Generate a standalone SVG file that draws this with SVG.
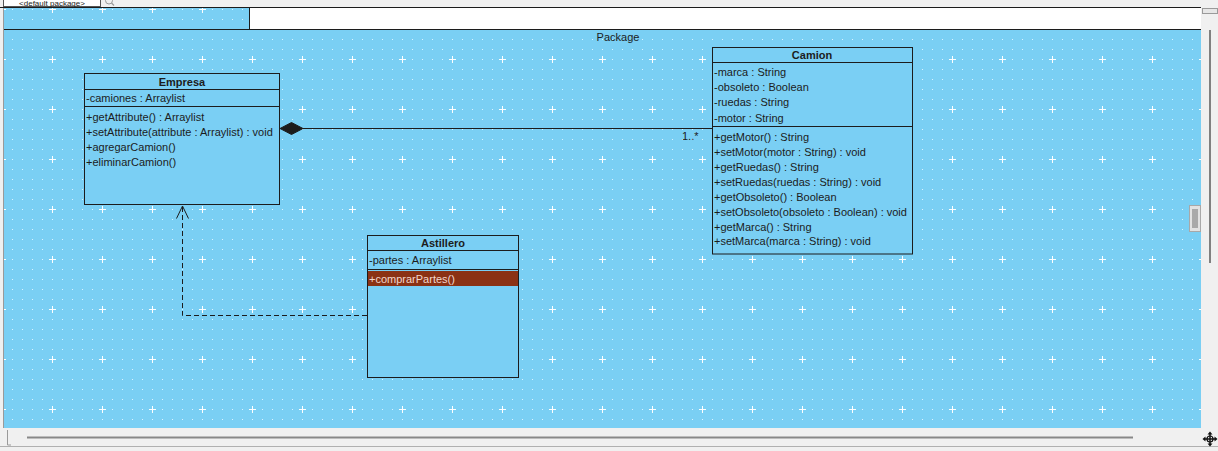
<svg xmlns="http://www.w3.org/2000/svg" width="1218" height="451" viewBox="0 0 1218 451">
<defs>
<pattern id="grid" patternUnits="userSpaceOnUse" x="27" y="34" width="50" height="50">
<g fill="#ffffff" fill-opacity="0.75">
<rect x="5" y="5" width="1" height="1"/><rect x="15" y="5" width="1" height="1"/><rect x="25" y="5" width="1" height="1"/><rect x="35" y="5" width="1" height="1"/><rect x="45" y="5" width="1" height="1"/>
<rect x="5" y="15" width="1" height="1"/><rect x="15" y="15" width="1" height="1"/><rect x="25" y="15" width="1" height="1"/><rect x="35" y="15" width="1" height="1"/><rect x="45" y="15" width="1" height="1"/>
<rect x="5" y="25" width="1" height="1"/><rect x="15" y="25" width="1" height="1"/><rect x="35" y="25" width="1" height="1"/><rect x="45" y="25" width="1" height="1"/>
<rect x="5" y="35" width="1" height="1"/><rect x="15" y="35" width="1" height="1"/><rect x="25" y="35" width="1" height="1"/><rect x="35" y="35" width="1" height="1"/><rect x="45" y="35" width="1" height="1"/>
<rect x="5" y="45" width="1" height="1"/><rect x="15" y="45" width="1" height="1"/><rect x="25" y="45" width="1" height="1"/><rect x="35" y="45" width="1" height="1"/><rect x="45" y="45" width="1" height="1"/>
</g>
<path d="M22 25.5 H29 M25.5 22 V29" stroke="#ffffff" stroke-width="1"/>
</pattern>
</defs>
<style>
.t{font-family:"Liberation Sans",Arial,sans-serif;font-size:11px;fill:#1c1c1c}
.b{font-weight:bold}
.box{fill:#7ACFF4;stroke:#1c1c1c;stroke-width:1}
.sep{stroke:#1c1c1c;stroke-width:1}
</style>
<rect x="0" y="0" width="1218" height="451" fill="#f0f0f0"/>
<!-- top toolbar -->
<rect x="3.5" y="-5" width="97" height="11.5" fill="#ffffff" stroke="#555555"/>
<text class="t" x="52" y="6" text-anchor="middle" style="font-size:8px">&lt;default package&gt;</text>
<circle cx="109" cy="0.5" r="3.5" fill="none" stroke="#9a9a9a"/>
<path d="M111.5 3 L114 5.5" stroke="#9a9a9a" stroke-width="1.2"/>
<!-- canvas -->
<rect x="3" y="8" width="1198" height="420" fill="#7ACFF4"/>
<rect x="3" y="8" width="1198" height="420" fill="url(#grid)"/>
<rect x="249.5" y="8" width="951.5" height="21" fill="#ffffff"/>
<path d="M0 7.5 H1201" stroke="#1c1c1c"/>
<path d="M3 29.5 H1201 M249.5 8 V29" stroke="#1c1c1c"/>
<path d="M3.5 8 V428" stroke="#9a9a9a"/>
<text class="t" x="618" y="41" text-anchor="middle">Package</text>
<!-- scrollbars -->
<rect x="1202.5" y="8.5" width="15" height="5" fill="#e6e6e6" stroke="#9a9a9a"/>
<path d="M1210 30 V263" stroke="#808080" stroke-width="2"/>
<rect x="1189.5" y="205.5" width="11" height="26" fill="#e2e2e2" stroke="#a8a8a8"/>
<path d="M1193 209 V228 M1195 209 V228 M1197 209 V228" stroke="#707070"/>
<path d="M27 437.5 H1133" stroke="#888888" stroke-width="2"/>
<path d="M7.5 430 V445 H11" stroke="#9a9a9a" fill="none"/>
<path d="M0 446.5 H1218" stroke="#b0b0b0"/>
<g id="move-icon" fill="#111111" stroke="#111111">
<path d="M1204 439 H1216 M1210 433 V445" stroke-width="1.5" fill="none"/>
<polygon points="1210,431.5 1207.5,434.5 1212.5,434.5" stroke="none"/>
<polygon points="1210,446.5 1207.5,443.5 1212.5,443.5" stroke="none"/>
<polygon points="1202.5,439 1205.5,436.5 1205.5,441.5" stroke="none"/>
<polygon points="1217.5,439 1214.5,436.5 1214.5,441.5" stroke="none"/>
<circle cx="1210" cy="439" r="3" fill="none" stroke-width="1.2"/>
</g>
<!-- connectors -->
<g id="connectors" fill="none" stroke="#1c1c1c" stroke-width="1">
<path d="M303 128.5 H712"/>
<polygon points="280,128.5 291.5,122.5 303,128.5 291.5,134.5" fill="#1c1c1c"/>
<path d="M367 315.5 H182.5 V207" stroke-dasharray="5,3"/>
<polyline points="176.5,218.5 182.5,206 188.5,218.5"/>
</g>
<text class="t" x="682" y="139.5">1..*</text>
<!-- Empresa -->
<g id="Empresa">
<rect class="box" x="84.5" y="73.5" width="195" height="131"/>
<path class="sep" d="M84.5 89.5 H279.5 M84.5 106.5 H279.5"/>
<text class="t b" x="182" y="85.5" text-anchor="middle">Empresa</text>
<text class="t" x="86" y="102">-camiones : Arraylist</text>
<text class="t" x="86" y="121">+getAttribute() : Arraylist</text>
<text class="t" x="86" y="135.5">+setAttribute(attribute : Arraylist) : void</text>
<text class="t" x="86" y="150.5">+agregarCamion()</text>
<text class="t" x="86" y="165.5">+eliminarCamion()</text>
</g>
<!-- Camion -->
<g id="Camion">
<rect class="box" x="712.5" y="47.5" width="200" height="206.5"/>
<path class="sep" d="M712.5 62.5 H912.5 M712.5 126.5 H912.5"/>
<text class="t b" x="812" y="59" text-anchor="middle">Camion</text>
<text class="t" x="714" y="76">-marca : String</text>
<text class="t" x="714" y="91">-obsoleto : Boolean</text>
<text class="t" x="714" y="106">-ruedas : String</text>
<text class="t" x="714" y="121.5">-motor : String</text>
<text class="t" x="714" y="140.5">+getMotor() : String</text>
<text class="t" x="714" y="155.5">+setMotor(motor : String) : void</text>
<text class="t" x="714" y="170.5">+getRuedas() : String</text>
<text class="t" x="714" y="185.5">+setRuedas(ruedas : String) : void</text>
<text class="t" x="714" y="200.5">+getObsoleto() : Boolean</text>
<text class="t" x="714" y="215.5">+setObsoleto(obsoleto : Boolean) : void</text>
<text class="t" x="714" y="230.5">+getMarca() : String</text>
<text class="t" x="714" y="245">+setMarca(marca : String) : void</text>
</g>
<!-- Astillero -->
<g id="Astillero">
<rect class="box" x="367.5" y="235.5" width="151" height="142"/>
<path class="sep" d="M367.5 250.5 H518.5 M367.5 269.5 H518.5"/>
<rect x="368" y="271" width="150" height="15" fill="#8B3214"/>
<text class="t b" x="443" y="247" text-anchor="middle">Astillero</text>
<text class="t" x="369" y="264">-partes : Arraylist</text>
<text class="t" x="369" y="282.5" style="fill:#f2d6cc">+comprarPartes()</text>
</g>
</svg>
